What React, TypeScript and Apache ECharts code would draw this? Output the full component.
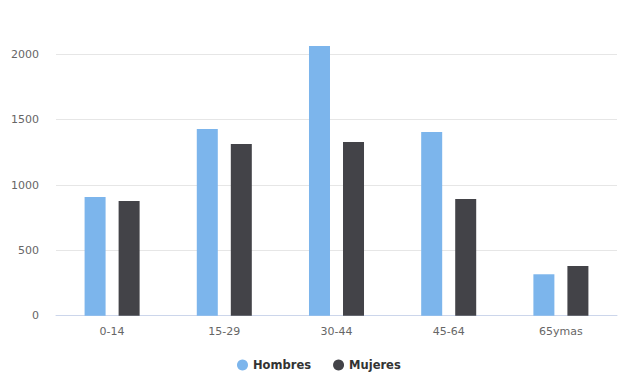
import React, { useEffect, useRef } from "react";
import * as echarts from "echarts";

const categories = ["0-14", "15-29", "30-44", "45-64", "65ymas"];
const hombres = [908, 1428, 2063, 1405, 317];
const mujeres = [878, 1314, 1329, 893, 380];
const yTicks = [0, 500, 1000, 1500, 2000];

const FONT = "'DejaVu Sans', Verdana, sans-serif";

export default function App() {
  const ref = useRef<HTMLDivElement>(null);
  useEffect(() => {
    if (!ref.current) return;
    const chart = echarts.init(ref.current, undefined, { renderer: "svg" });
    chart.setOption({
      animation: false,
      backgroundColor: "#ffffff",
      grid: { left: 56, right: 10, top: 54.3, bottom: 60.3, containLabel: false },
      legend: {
        data: ["Hombres", "Mujeres"],
        left: 232,
        top: 354,
        icon: "circle",
        itemWidth: 11,
        itemHeight: 11,
        itemGap: 22,
        textStyle: { fontFamily: FONT, fontSize: 11.5, fontWeight: "bold", color: "#333333" },
      },
      xAxis: {
        type: "category",
        data: categories,
        axisLine: { lineStyle: { color: "#ccd6eb", width: 1 } },
        axisTick: { show: false },
        axisLabel: { color: "#666666", fontFamily: FONT, fontSize: 11, margin: 10 },
      },
      yAxis: {
        type: "value",
        min: yTicks[0],
        max: yTicks[yTicks.length - 1],
        interval: 500,
        axisLine: { show: false },
        axisTick: { show: false },
        splitLine: { lineStyle: { color: "#e6e6e6", width: 1 } },
        axisLabel: {
          color: "#666666",
          fontFamily: FONT,
          fontSize: 11,
          margin: 17,
          formatter: (v: number) => String(v),
        },
      },
      series: [
        {
          name: "Hombres",
          type: "bar",
          data: hombres,
          barWidth: 21,
          barGap: "62%",
          clip: false,
          itemStyle: { color: "#7cb5ec" },
        },
        {
          name: "Mujeres",
          type: "bar",
          data: mujeres,
          barWidth: 21,
          barGap: "62%",
          clip: false,
          itemStyle: { color: "#434348" },
        },
      ],
    });
    return () => chart.dispose();
  }, []);
  return <div ref={ref} style={{ width: 627, height: 376, position: "absolute", left: 0, top: 0 }} />;
}
